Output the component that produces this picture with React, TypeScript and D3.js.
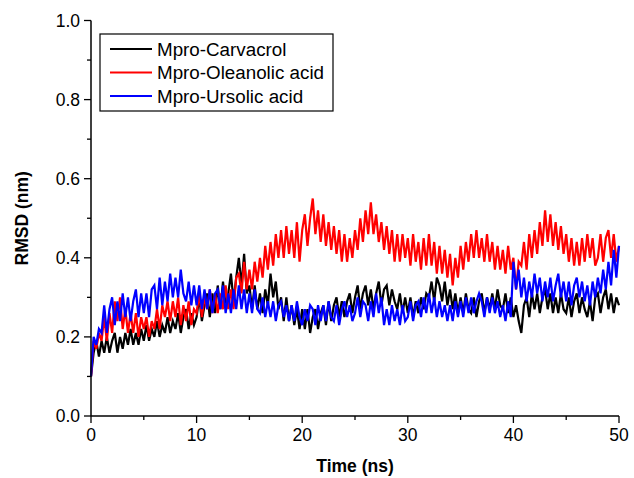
import React from "react";
import * as d3 from "d3";

const STEP = 0.25;
const seriesNames = ["Mpro-Carvacrol", "Mpro-Oleanolic acid", "Mpro-Ursolic acid"];
const seriesColors = ["#000000", "#ff0000", "#0000ff"];

const carvacrol = [
  0.10, 0.16, 0.19, 0.15, 0.19, 0.16, 0.20, 0.16, 0.19, 0.21, 0.16, 0.20,
  0.17, 0.21, 0.18, 0.22, 0.18, 0.21, 0.18, 0.22, 0.19, 0.23, 0.19, 0.22,
  0.20, 0.24, 0.20, 0.23, 0.21, 0.25, 0.21, 0.24, 0.22, 0.26, 0.21, 0.25,
  0.27, 0.22, 0.26, 0.23, 0.25, 0.30, 0.24, 0.28, 0.31, 0.25, 0.31, 0.26,
  0.33, 0.27, 0.34, 0.28, 0.31, 0.36, 0.29, 0.35, 0.40, 0.33, 0.41, 0.31,
  0.33, 0.27, 0.33, 0.27, 0.31, 0.26, 0.32, 0.28, 0.36, 0.30, 0.34, 0.27,
  0.30, 0.24, 0.30, 0.24, 0.28, 0.23, 0.27, 0.22, 0.27, 0.22, 0.27, 0.21,
  0.25, 0.27, 0.22, 0.26, 0.28, 0.23, 0.29, 0.24, 0.28, 0.30, 0.25, 0.29,
  0.25, 0.29, 0.31, 0.26, 0.30, 0.33, 0.27, 0.31, 0.33, 0.28, 0.32, 0.27,
  0.31, 0.34, 0.28, 0.32, 0.33, 0.28, 0.32, 0.29, 0.27, 0.31, 0.26, 0.30,
  0.26, 0.30, 0.25, 0.29, 0.26, 0.30, 0.27, 0.31, 0.30, 0.34, 0.29, 0.35,
  0.33, 0.29, 0.34, 0.28, 0.32, 0.27, 0.31, 0.26, 0.30, 0.26, 0.31, 0.27,
  0.26, 0.30, 0.25, 0.29, 0.31, 0.26, 0.30, 0.27, 0.31, 0.27, 0.32, 0.28,
  0.27, 0.31, 0.26, 0.30, 0.25, 0.28, 0.24, 0.21, 0.28, 0.30, 0.25, 0.31,
  0.27, 0.31, 0.26, 0.30, 0.32, 0.27, 0.31, 0.26, 0.30, 0.26, 0.31, 0.27,
  0.26, 0.30, 0.25, 0.29, 0.31, 0.26, 0.30, 0.27, 0.25, 0.29, 0.24, 0.30,
  0.31, 0.26, 0.30, 0.32, 0.27, 0.31, 0.26, 0.30, 0.28,
];

const oleanolic = [
  0.10, 0.19, 0.17, 0.21, 0.19, 0.25, 0.19, 0.26, 0.21, 0.29, 0.24, 0.30,
  0.22, 0.27, 0.21, 0.26, 0.21, 0.26, 0.20, 0.25, 0.22, 0.25, 0.20, 0.24,
  0.22, 0.27, 0.22, 0.28, 0.25, 0.29, 0.24, 0.29, 0.25, 0.30, 0.23, 0.28,
  0.24, 0.29, 0.23, 0.27, 0.26, 0.31, 0.25, 0.30, 0.27, 0.32, 0.26, 0.31,
  0.26, 0.31, 0.27, 0.33, 0.27, 0.32, 0.27, 0.35, 0.36, 0.31, 0.39, 0.32,
  0.37, 0.32, 0.39, 0.34, 0.40, 0.35, 0.43, 0.37, 0.44, 0.38, 0.46, 0.40,
  0.47, 0.40, 0.48, 0.41, 0.47, 0.40, 0.49, 0.39, 0.47, 0.51, 0.43, 0.50,
  0.55, 0.46, 0.52, 0.44, 0.51, 0.43, 0.49, 0.42, 0.48, 0.41, 0.47, 0.39,
  0.46, 0.39, 0.45, 0.40, 0.47, 0.42, 0.50, 0.44, 0.52, 0.46, 0.54, 0.46,
  0.51, 0.44, 0.49, 0.42, 0.48, 0.41, 0.47, 0.39, 0.46, 0.39, 0.46, 0.40,
  0.45, 0.38, 0.46, 0.39, 0.44, 0.37, 0.45, 0.38, 0.46, 0.38, 0.44, 0.36,
  0.43, 0.36, 0.42, 0.35, 0.41, 0.33, 0.40, 0.35, 0.43, 0.37, 0.44, 0.39,
  0.46, 0.40, 0.47, 0.40, 0.45, 0.39, 0.46, 0.39, 0.44, 0.37, 0.43, 0.37,
  0.42, 0.36, 0.43, 0.37, 0.40, 0.32, 0.39, 0.38, 0.44, 0.37, 0.46, 0.40,
  0.47, 0.41, 0.49, 0.43, 0.52, 0.44, 0.51, 0.43, 0.49, 0.42, 0.48, 0.41,
  0.46, 0.39, 0.45, 0.38, 0.44, 0.38, 0.45, 0.39, 0.46, 0.40, 0.45, 0.38,
  0.40, 0.46, 0.39, 0.45, 0.47, 0.40, 0.46, 0.39, 0.43,
];

const ursolic = [
  0.10, 0.20, 0.18, 0.22, 0.21, 0.28, 0.21, 0.27, 0.30, 0.23, 0.29, 0.24,
  0.31, 0.25, 0.30, 0.24, 0.29, 0.32, 0.25, 0.31, 0.26, 0.31, 0.25, 0.32,
  0.33, 0.27, 0.35, 0.28, 0.34, 0.29, 0.36, 0.30, 0.35, 0.30, 0.37, 0.31,
  0.29, 0.34, 0.28, 0.33, 0.28, 0.33, 0.27, 0.32, 0.27, 0.32, 0.26, 0.31,
  0.32, 0.27, 0.33, 0.26, 0.31, 0.26, 0.32, 0.27, 0.33, 0.27, 0.32, 0.26,
  0.31, 0.26, 0.32, 0.27, 0.26, 0.30, 0.25, 0.29, 0.25, 0.29, 0.24, 0.28,
  0.29, 0.25, 0.28, 0.24, 0.28, 0.24, 0.29, 0.25, 0.23, 0.27, 0.24, 0.28,
  0.27, 0.23, 0.28, 0.24, 0.28, 0.24, 0.29, 0.25, 0.24, 0.28, 0.23, 0.27,
  0.29, 0.25, 0.28, 0.24, 0.26, 0.30, 0.25, 0.29, 0.28, 0.24, 0.29, 0.25,
  0.31, 0.26, 0.30, 0.23, 0.27, 0.23, 0.28, 0.24, 0.27, 0.23, 0.28, 0.24,
  0.25, 0.29, 0.24, 0.28, 0.29, 0.25, 0.30, 0.26, 0.31, 0.26, 0.30, 0.25,
  0.29, 0.25, 0.28, 0.24, 0.28, 0.24, 0.29, 0.25, 0.29, 0.25, 0.30, 0.26,
  0.30, 0.26, 0.29, 0.31, 0.29, 0.25, 0.30, 0.26, 0.30, 0.26, 0.29, 0.25,
  0.28, 0.24, 0.29, 0.25, 0.39, 0.32, 0.37, 0.30, 0.35, 0.29, 0.34, 0.30,
  0.36, 0.31, 0.35, 0.29, 0.34, 0.30, 0.35, 0.29, 0.33, 0.36, 0.30, 0.34,
  0.29, 0.34, 0.28, 0.33, 0.35, 0.30, 0.34, 0.29, 0.33, 0.28, 0.34, 0.30,
  0.35, 0.31, 0.37, 0.32, 0.39, 0.33, 0.42, 0.35, 0.43,
];

const xTicks = [0, 10, 20, 30, 40, 50];
const yTicks = [0.0, 0.2, 0.4, 0.6, 0.8, 1.0];
const xMinorTicks = [5, 15, 25, 35, 45];
const yMinorTicks = [0.1, 0.3, 0.5, 0.7, 0.9];

const W = 634;
const H = 478;

export default function App() {
  const x = d3.scaleLinear().domain([0, 50]).range([91, 619]);
  const y = d3.scaleLinear().domain([0, 1]).range([416, 20.5]);
  const all = [carvacrol, oleanolic, ursolic];
  const line = d3
    .line<number>()
    .x((_, i) => x(i * STEP))
    .y((d) => y(d));
  const font = "'Liberation Sans', Arial, sans-serif";
  const x0 = x(0);
  const yb = y(0);
  return (
    <svg
      width={W}
      height={H}
      style={{ position: "absolute", left: 0, top: 0, background: "#fff" }}
      fontFamily={font}
    >
      {[0, 1, 2].map((k) => (
        <path
          key={k}
          d={line(all[k]) || ""}
          fill="none"
          stroke={seriesColors[k]}
          strokeWidth={2.2}
          strokeLinejoin="miter"
        />
      ))}
      <line x1={x0} x2={x0} y1={y(1)} y2={yb} stroke="#000" strokeWidth={1.5} />
      <line x1={x0} x2={x(50)} y1={yb} y2={yb} stroke="#000" strokeWidth={1.5} />
      {xTicks.map((t) => (
        <g key={"xt" + t}>
          <line x1={x(t)} x2={x(t)} y1={yb} y2={yb + 7} stroke="#000" strokeWidth={1.3} />
          <text x={x(t)} y={yb + 25} textAnchor="middle" fontSize={17.5}>
            {t}
          </text>
        </g>
      ))}
      {xMinorTicks.map((t) => (
        <line key={"xm" + t} x1={x(t)} x2={x(t)} y1={yb} y2={yb + 4} stroke="#000" strokeWidth={1.3} />
      ))}
      {yTicks.map((t) => (
        <g key={"yt" + t}>
          <line x1={x0 - 7} x2={x0} y1={y(t)} y2={y(t)} stroke="#000" strokeWidth={1.3} />
          <text x={x0 - 11} y={y(t) + 6} textAnchor="end" fontSize={17.5}>
            {t.toFixed(1)}
          </text>
        </g>
      ))}
      {yMinorTicks.map((t) => (
        <line key={"ym" + t} x1={x0 - 4} x2={x0} y1={y(t)} y2={y(t)} stroke="#000" strokeWidth={1.3} />
      ))}
      <text x={(x(0) + x(50)) / 2} y={472} textAnchor="middle" fontSize={17.5} fontWeight="bold">
        Time (ns)
      </text>
      <text
        transform={`translate(28, ${(y(0) + y(1)) / 2}) rotate(-90)`}
        textAnchor="middle"
        fontSize={17.5}
        fontWeight="bold"
      >
        RMSD (nm)
      </text>
      <rect x={100} y={34} width={233} height={77} fill="#fff" stroke="#000" strokeWidth={1.2} />
      {seriesNames.map((n, i) => (
        <g key={n}>
          <line x1={110} x2={152} y1={49 + i * 23.5} y2={49 + i * 23.5} stroke={seriesColors[i]} strokeWidth={2} />
          <text x={157} y={49 + i * 23.5 + 6.5} fontSize={18.8}>
            {n}
          </text>
        </g>
      ))}
    </svg>
  );
}
